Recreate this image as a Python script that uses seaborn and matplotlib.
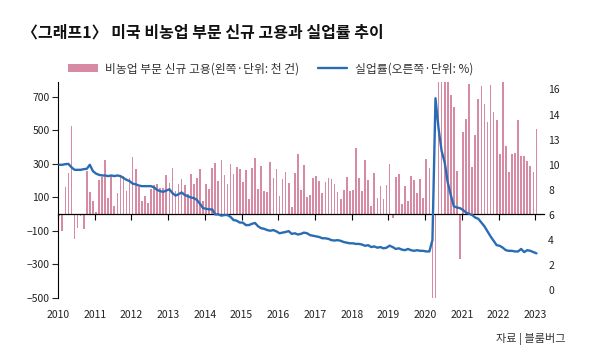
import numpy as np
import pandas as pd
import matplotlib
matplotlib.use("Agg")
import matplotlib.pyplot as plt
import seaborn as sns


# monthly values, Jan 2010 .. Jan 2023
payrolls = [
	-10, -100, 160, 246, 526, -146, -80, -10, -86, 256, 130, 78,
	14, 206, 220, 324, 96, 234, 50, 126, 220, 226, 140, 214,
	340, 270, 164, 78, 106, 66, 150, 174, 178, 154, 154, 234,
	186, 276, 140, 182, 210, 174, 120, 240, 178, 216, 270, 80,
	178, 150, 274, 306, 198, 326, 234, 178, 300, 238, 280, 270,
	190, 265, 90, 274, 334, 150, 286, 136, 130, 314, 218, 270,
	110, 208, 250, 186, 40, 244, 360, 146, 294, 104, 116, 214,
	226, 200, 126, 194, 214, 210, 178, 130, 88, 144, 224, 138,
	146, 394, 218, 138, 324, 206, 50, 244, 94, 170, 90, 176,
	302, -20, 224, 238, 60, 166, 80, 226, 204, 126, 210, 98,
	330, 274, -1400, -20500, 2800, 4800, 1700, 1500, 714, 640, 260, -266,
	490, 570, 780, 280, 474, 686, 766, 660, 550, 774, 610, 560,
	360, 794, 410, 250, 360, 366, 562, 346, 346, 320, 286, 254,
	510,
]
unemployment = [
	10.0, 10.0, 10.05, 10.07, 9.8, 9.6, 9.6, 9.6, 9.65, 9.68, 10.0, 9.5,
	9.3, 9.2, 9.15, 9.15, 9.1, 9.15, 9.1, 9.15, 9.1, 8.95, 8.8, 8.7,
	8.5, 8.45, 8.35, 8.3, 8.3, 8.3, 8.3, 8.2, 8.0, 7.9, 7.85, 7.95,
	8.05, 7.75, 7.55, 7.65, 7.8, 7.6, 7.5, 7.4, 7.35, 7.2, 6.9, 6.55,
	6.5, 6.45, 6.45, 6.05, 6.05, 5.95, 6.0, 6.0, 5.85, 5.6, 5.55, 5.4,
	5.4, 5.2, 5.2, 5.3, 5.37, 5.1, 4.95, 4.9, 4.8, 4.75, 4.8, 4.7,
	4.55, 4.6, 4.65, 4.72, 4.5, 4.55, 4.45, 4.5, 4.6, 4.55, 4.4, 4.35,
	4.3, 4.25, 4.15, 4.15, 4.1, 4.0, 3.97, 4.0, 3.95, 3.85, 3.8, 3.75,
	3.75, 3.7, 3.7, 3.65, 3.55, 3.6, 3.45, 3.5, 3.4, 3.45, 3.35, 3.4,
	3.56, 3.45, 3.3, 3.35, 3.25, 3.2, 3.3, 3.2, 3.15, 3.2, 3.15, 3.15,
	3.1, 3.1, 4.0, 15.3, 12.9, 11.1, 10.2, 8.6, 7.6, 6.7, 6.6, 6.55,
	6.4, 6.2, 6.1, 6.0, 5.8, 5.7, 5.4, 5.1, 4.7, 4.3, 3.95, 3.6,
	3.55, 3.4, 3.2, 3.15, 3.15, 3.1, 3.1, 3.3, 3.05, 3.2, 3.15, 3.05,
	2.95,
]
years = list(range(2010, 2024))
left_ticks = [-500, -300, -100, 100, 300, 500, 700]
right_ticks = [0, 2, 4, 6, 8, 10, 12, 14, 16]
right_labels = ["0", "2", "4", "6", "8", "10", "13", "14", "16"]

title = "〈그래프1〉 미국 비농업 부문 신규 고용과 실업률 추이"
bar_label = "비농업 부문 신규 고용(왼쪽·단위: 천 건)"
line_label = "실업률(오른쪽·단위: %)"
source = "자료 | 블룸버그"

PINK = "#d78aa3"
BLUE = "#2a6cb4"
TEXT = "#222222"


def main():
	months = 2010 + (np.arange(len(payrolls)) + 0.4) / 12
	df = pd.DataFrame({"month": months, "payrolls": payrolls, "rate": unemployment})

	sns.set_theme(style="ticks")
	plt.rcParams["font.family"] = ["Noto Sans CJK KR", "DejaVu Sans"]

	fig = plt.figure(figsize=(6, 3.53), dpi=100)
	ax = fig.add_axes([0.0967, 0.156, 0.81, 0.612])

	sns.barplot(data=df, x="month", y="payrolls", native_scale=True, width=0.55,
		color=PINK, saturation=1, linewidth=0, errorbar=None, ax=ax, label=bar_label)
	ax2 = ax.twinx()
	sns.lineplot(data=df, x="month", y="rate", color=BLUE, linewidth=1.7, ax=ax2, label=line_label)

	for a in (ax, ax2):
		if a.get_legend() is not None:
			a.get_legend().remove()
		a.set_xlabel("")
		a.set_ylabel("")

	ax.set_xlim(2010, 2023.24)
	ax.set_ylim(-500, 790)
	ax2.set_ylim(-0.6, 16.6)

	# left axis
	ax.set_yticks(left_ticks)
	ax.tick_params(axis="y", length=4, width=0.8, pad=2, labelsize=7.5, colors=TEXT)
	ax.spines["left"].set_linewidth(0.8)
	ax.spines["left"].set_color("black")
	ax.spines["top"].set_visible(False)
	ax.spines["right"].set_visible(False)

	# zero line with year ticks
	ax.spines["bottom"].set_position(("data", 0))
	ax.spines["bottom"].set_linewidth(0.9)
	ax.spines["bottom"].set_color("black")
	ax.set_xticks(years)
	ax.tick_params(axis="x", length=4, width=0.8, labelbottom=False, color="black")

	sec = ax.secondary_xaxis("bottom")
	sec.set_xticks(years)
	sec.set_xticklabels([str(y) for y in years])
	sec.tick_params(axis="x", length=0, pad=9, labelsize=7.5, colors=TEXT)
	sec.spines["bottom"].set_visible(False)

	# right axis
	ax2.set_yticks(right_ticks)
	ax2.set_yticklabels(right_labels)
	ax2.tick_params(axis="y", length=0, pad=3, labelsize=7.5, colors=TEXT)
	for s in ax2.spines.values():
		s.set_visible(False)

	h1, l1 = ax.get_legend_handles_labels()
	h2, l2 = ax2.get_legend_handles_labels()
	fig.legend(h1 + h2, l1 + l2, loc="center left", bbox_to_anchor=(0.104, 0.805),
		ncol=2, frameon=False, fontsize=8.5, borderpad=0, handlelength=2.5,
		handleheight=0.7, handletextpad=0.6, columnspacing=1.6, labelcolor="#333333")

	fig.text(0.036, 1 - 33 / 353, title, fontsize=11.5, fontweight="bold", va="center", color="#111111")
	fig.text(0.942, 1 - 339 / 353, source, fontsize=8, ha="right", va="center", color="#333333")

	fig.savefig("out.png", dpi=100)
	plt.close(fig)


if __name__ == "__main__":
	main()
